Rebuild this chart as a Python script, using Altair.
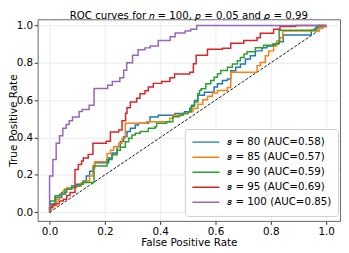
import altair as alt
import pandas as pd

s_values = [80, 85, 90, 95, 100]
auc_values = [0.58, 0.57, 0.59, 0.69, 0.85]
colors = ["#1f77b4", "#ff7f0e", "#2ca02c", "#d62728", "#9467bd"]
tick_values = [0.0, 0.2, 0.4, 0.6, 0.8, 1.0]

fpr_80 = [0, 0.002, 0.008, 0.020, 0.044, 0.062, 0.080, 0.098, 0.121, 0.133, 0.145, 0.157, 0.163,
          0.214, 0.226, 0.244, 0.256, 0.268, 0.280, 0.292, 0.310, 0.321, 0.357, 0.363, 0.393, 0.453,
          0.488, 0.507, 0.514, 0.524, 0.536, 0.560, 0.595, 0.607, 0.625, 0.643, 0.655, 0.673, 0.690,
          0.708, 0.726, 0.744, 0.768, 0.786, 0.807, 0.828, 0.845, 0.946, 0.958, 0.971, 1.0]
tpr_80 = [0, 0.033, 0.044, 0.079, 0.106, 0.123, 0.141, 0.150, 0.167, 0.194, 0.220, 0.238, 0.265,
          0.291, 0.317, 0.352, 0.379, 0.405, 0.432, 0.450, 0.467, 0.476, 0.485, 0.510, 0.520, 0.529,
          0.538, 0.557, 0.573, 0.599, 0.626, 0.643, 0.670, 0.688, 0.705, 0.714, 0.758, 0.776, 0.794,
          0.820, 0.838, 0.864, 0.881, 0.890, 0.901, 0.913, 0.949, 0.975, 0.984, 0.994, 1.0]

fpr_85 = [0, 0.002, 0.008, 0.026, 0.036, 0.050, 0.062, 0.098, 0.115, 0.133, 0.145, 0.157, 0.163,
          0.208, 0.220, 0.232, 0.250, 0.262, 0.274, 0.351, 0.435, 0.446, 0.482, 0.500, 0.518, 0.536,
          0.554, 0.571, 0.589, 0.607, 0.643, 0.655, 0.750, 0.762, 0.780, 0.792, 0.810, 0.821, 0.833,
          0.843, 0.975, 0.989, 1.0]
tpr_85 = [0, 0.017, 0.035, 0.070, 0.097, 0.118, 0.132, 0.141, 0.159, 0.167, 0.194, 0.250, 0.271,
          0.314, 0.332, 0.351, 0.370, 0.397, 0.476, 0.485, 0.503, 0.520, 0.529, 0.538, 0.556, 0.578,
          0.602, 0.621, 0.639, 0.652, 0.668, 0.749, 0.785, 0.802, 0.838, 0.864, 0.890, 0.917, 0.934,
          0.970, 0.986, 0.994, 1.0]

fpr_90 = [0, 0.0025, 0.020, 0.038, 0.056, 0.080, 0.092, 0.110, 0.121, 0.161, 0.208, 0.226, 0.244,
          0.256, 0.274, 0.286, 0.298, 0.310, 0.328, 0.357, 0.381, 0.387, 0.423, 0.446, 0.470, 0.482,
          0.500, 0.512, 0.524, 0.536, 0.542, 0.548, 0.565, 0.583, 0.595, 0.607, 0.619, 0.643, 0.661,
          0.679, 0.690, 0.703, 0.714, 0.744, 0.774, 0.815, 0.830, 0.964, 0.971, 1.0]
tpr_90 = [0, 0.061, 0.088, 0.097, 0.123, 0.132, 0.141, 0.150, 0.159, 0.248, 0.282, 0.308, 0.332,
          0.348, 0.377, 0.396, 0.414, 0.423, 0.432, 0.450, 0.458, 0.476, 0.485, 0.511, 0.520, 0.529,
          0.538, 0.568, 0.590, 0.635, 0.652, 0.661, 0.688, 0.705, 0.723, 0.741, 0.759, 0.776, 0.794,
          0.811, 0.829, 0.847, 0.859, 0.881, 0.894, 0.903, 0.975, 0.993, 1.0, 1.0]

fpr_95 = [0, 0, 0.012, 0.020, 0.035, 0.050, 0.062, 0.074, 0.092, 0.104, 0.116, 0.122, 0.140, 0.157,
          0.205, 0.220, 0.250, 0.262, 0.275, 0.280, 0.292, 0.315, 0.327, 0.345, 0.357, 0.375, 0.405,
          0.435, 0.452, 0.507, 0.520, 0.530, 0.571, 0.625, 0.655, 0.702, 0.750, 0.762, 0.810, 0.833,
          0.890, 1.0]
tpr_95 = [0, 0.025, 0.040, 0.045, 0.060, 0.070, 0.090, 0.106, 0.229, 0.256, 0.275, 0.290, 0.310,
          0.370, 0.380, 0.430, 0.440, 0.490, 0.530, 0.560, 0.590, 0.610, 0.635, 0.650, 0.670, 0.690,
          0.700, 0.720, 0.740, 0.750, 0.795, 0.840, 0.873, 0.878, 0.905, 0.920, 0.934, 0.958, 0.980,
          0.995, 1.0, 1.0]

fpr_100 = [0, 0, 0.012, 0.024, 0.036, 0.048, 0.060, 0.071, 0.083, 0.107, 0.118, 0.143, 0.161, 0.210,
           0.227, 0.254, 0.268, 0.279, 0.300, 0.320, 0.345, 0.364, 0.393, 0.436, 0.454, 0.490, 0.510,
           0.532, 1.0]
tpr_100 = [0, 0.194, 0.282, 0.370, 0.410, 0.450, 0.470, 0.490, 0.510, 0.540, 0.550, 0.573, 0.662,
           0.680, 0.700, 0.720, 0.760, 0.800, 0.840, 0.870, 0.880, 0.890, 0.920, 0.940, 0.960, 0.970,
           0.980, 1.0, 1.0]

series_fpr = [fpr_80, fpr_85, fpr_90, fpr_95, fpr_100]
series_tpr = [tpr_80, tpr_85, tpr_90, tpr_95, tpr_100]

labels = [f"\U0001D460 = {s} (AUC={a:.2f})" for s, a in zip(s_values, auc_values)]

rows = []
for k, (lab, xs, ys) in enumerate(zip(labels, series_fpr, series_tpr)):
    for i, (x, y) in enumerate(zip(xs, ys)):
        rows.append({"fpr": x, "tpr": y, "series": lab, "order": i, "z": k})
df = pd.DataFrame(rows)
diag = pd.DataFrame({"fpr": [0.0, 1.0], "tpr": [0.0, 1.0]})

FONT = "DejaVu Sans"
xscale = alt.Scale(domain=[-0.043, 1.05], nice=False, zero=False)
yscale = alt.Scale(domain=[-0.046, 1.033], nice=False, zero=False)

xaxis = alt.Axis(values=tick_values, format=".1f", title="False Positive Rate",
                 titleBaseline="alphabetic", titleY=25, titleFontSize=10.5,
                 labelFontSize=10.5, tickSize=3.5, labelPadding=2)
yaxis = alt.Axis(values=tick_values, format=".1f", title="True Positive Rate",
                 titleBaseline="alphabetic", titleX=-21, titleFontSize=10.5,
                 labelFontSize=10.5, tickSize=3.5, labelPadding=1.5)

diag_layer = alt.Chart(diag).mark_line(color="black", strokeWidth=0.9, strokeDash=[3, 1.6]).encode(
    x=alt.X("fpr:Q", scale=xscale, axis=xaxis),
    y=alt.Y("tpr:Q", scale=yscale, axis=yaxis),
)

curves = alt.Chart(df).mark_line(interpolate="step-after", strokeWidth=1.5).encode(
    x=alt.X("fpr:Q", scale=xscale),
    y=alt.Y("tpr:Q", scale=yscale),
    color=alt.Color("series:N", scale=alt.Scale(domain=labels, range=colors),
                    legend=alt.Legend(title=None, orient="none", legendX=149, legendY=111,
                                      symbolType="stroke", symbolSize=750, symbolStrokeWidth=1.5,
                                      clipHeight=13, rowPadding=2.2, padding=6.8, labelOffset=7,
                                      labelFontSize=10.4, labelFont=FONT, labelColor="black",
                                      fillColor="rgba(255,255,255,0.8)", strokeColor="#cccccc",
                                      cornerRadius=3, labelLimit=0)),
    order=alt.Order("order:Q"),
    detail="z:N",
)

chart = alt.layer(diag_layer, curves).properties(
    width=306, height=204,
    autosize="none",
    padding={"left": 30, "top": 10, "right": 1, "bottom": 25},
    title=alt.TitleParams("ROC curves for \U0001D45B = 100, \U0001D45D = 0.05 and \U0001D70C = 0.99",
                          fontSize=10.3, font=FONT, fontWeight="normal", color="black",
                          anchor="middle", baseline="alphabetic", offset=-9.5),
).configure_view(stroke="#666666", strokeWidth=1).configure_axis(
    labelFont=FONT, titleFont=FONT, labelColor="black", titleColor="black",
    titleFontWeight="normal", tickColor="#333333", domain=False,
    gridColor="#e8e8e8", gridWidth=0.8,
)

chart.save("out.html", embed_options={"renderer": "svg", "actions": False})
